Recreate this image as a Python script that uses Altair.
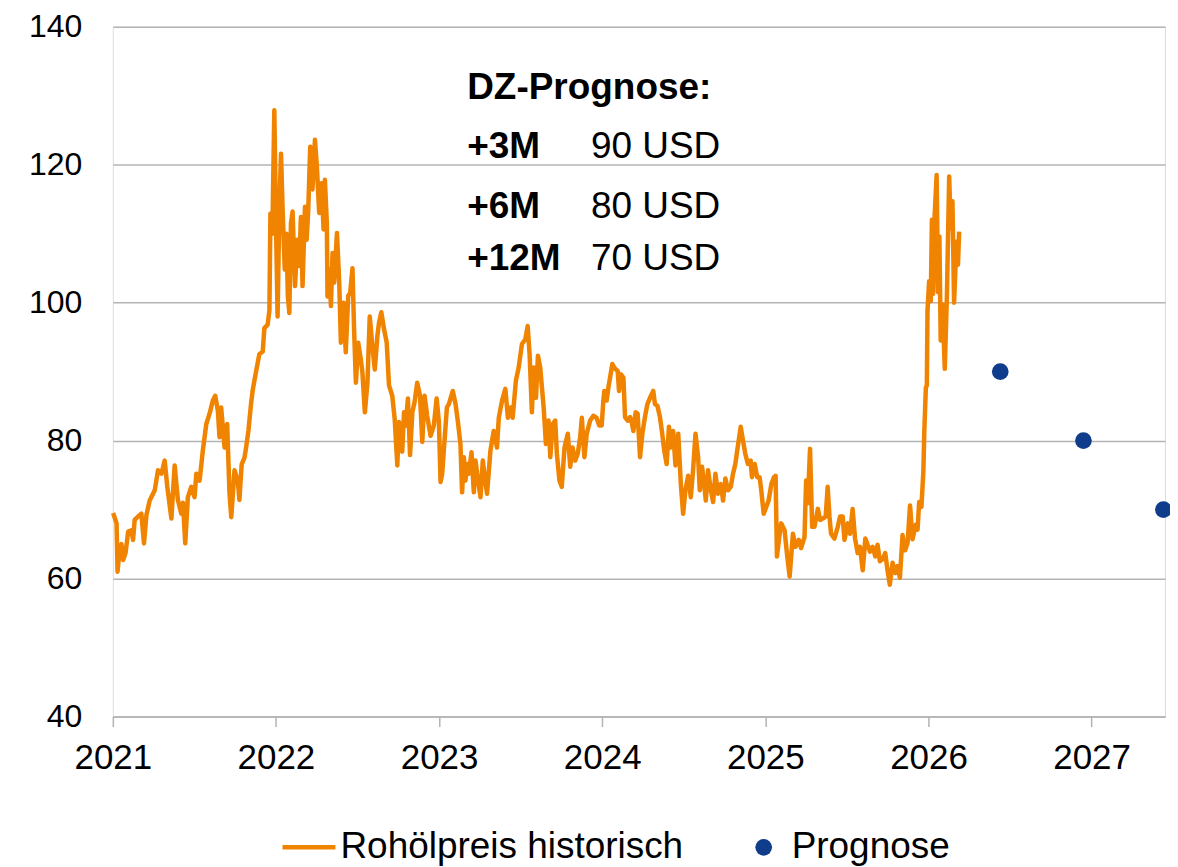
import altair as alt
import pandas as pd

# ---- data ----
years = [
    2021.002, 2021.023, 2021.029, 2021.043, 2021.053, 2021.063, 2021.078, 2021.094, 2021.114, 2021.124,
    2021.134, 2021.155, 2021.175, 2021.191, 2021.206, 2021.226, 2021.257, 2021.277, 2021.298, 2021.318,
    2021.334, 2021.359, 2021.379, 2021.399, 2021.420, 2021.430, 2021.444, 2021.460, 2021.481, 2021.501,
    2021.512, 2021.532, 2021.552, 2021.573, 2021.593, 2021.613, 2021.628, 2021.644, 2021.654, 2021.664,
    2021.685, 2021.701, 2021.715, 2021.726, 2021.746, 2021.766, 2021.776, 2021.790, 2021.807, 2021.817,
    2021.831, 2021.848, 2021.858, 2021.878, 2021.898, 2021.919, 2021.929, 2021.949, 2021.960, 2021.966,
    2021.978, 2021.990, 2022.001, 2022.010, 2022.021, 2022.031, 2022.041, 2022.054, 2022.064, 2022.073,
    2022.082, 2022.092, 2022.102, 2022.117, 2022.131, 2022.143, 2022.153, 2022.163, 2022.178, 2022.188,
    2022.198, 2022.210, 2022.224, 2022.239, 2022.251, 2022.265, 2022.279, 2022.292, 2022.300, 2022.312,
    2022.316, 2022.328, 2022.337, 2022.347, 2022.357, 2022.374, 2022.388, 2022.398, 2022.414, 2022.428,
    2022.443, 2022.455, 2022.469, 2022.479, 2022.490, 2022.504, 2022.520, 2022.530, 2022.545, 2022.561,
    2022.575, 2022.591, 2022.606, 2022.622, 2022.632, 2022.646, 2022.663, 2022.679, 2022.693, 2022.713,
    2022.728, 2022.744, 2022.754, 2022.774, 2022.785, 2022.795, 2022.809, 2022.822, 2022.836, 2022.850,
    2022.866, 2022.883, 2022.897, 2022.911, 2022.927, 2022.948, 2022.968, 2022.985, 2022.999, 2023.009,
    2023.019, 2023.029, 2023.048, 2023.060, 2023.084, 2023.101, 2023.117, 2023.131, 2023.141, 2023.152,
    2023.162, 2023.172, 2023.182, 2023.199, 2023.213, 2023.223, 2023.239, 2023.254, 2023.268, 2023.280,
    2023.294, 2023.315, 2023.335, 2023.355, 2023.366, 2023.386, 2023.406, 2023.422, 2023.437, 2023.451,
    2023.471, 2023.488, 2023.508, 2023.529, 2023.543, 2023.555, 2023.569, 2023.579, 2023.594, 2023.606,
    2023.620, 2023.641, 2023.655, 2023.671, 2023.682, 2023.696, 2023.712, 2023.722, 2023.738, 2023.752,
    2023.769, 2023.789, 2023.804, 2023.818, 2023.834, 2023.850, 2023.865, 2023.875, 2023.891, 2023.905,
    2023.926, 2023.946, 2023.966, 2023.981, 2023.997, 2024.007, 2024.013, 2024.027, 2024.038, 2024.062,
    2024.079, 2024.095, 2024.103, 2024.116, 2024.130, 2024.140, 2024.156, 2024.171, 2024.181, 2024.191,
    2024.205, 2024.217, 2024.232, 2024.246, 2024.262, 2024.277, 2024.293, 2024.313, 2024.323, 2024.339,
    2024.354, 2024.368, 2024.380, 2024.395, 2024.409, 2024.421, 2024.435, 2024.449, 2024.466, 2024.482,
    2024.496, 2024.510, 2024.527, 2024.543, 2024.557, 2024.572, 2024.588, 2024.598, 2024.612, 2024.625,
    2024.635, 2024.649, 2024.666, 2024.680, 2024.694, 2024.710, 2024.727, 2024.741, 2024.755, 2024.771,
    2024.788, 2024.802, 2024.816, 2024.828, 2024.849, 2024.863, 2024.877, 2024.893, 2024.910, 2024.918,
    2024.935, 2024.950, 2024.965, 2024.975, 2024.990, 2025.006, 2025.020, 2025.037, 2025.053, 2025.063,
    2025.071, 2025.088, 2025.097, 2025.118, 2025.132, 2025.149, 2025.169, 2025.185, 2025.205, 2025.219,
    2025.240, 2025.250, 2025.260, 2025.274, 2025.287, 2025.301, 2025.322, 2025.336, 2025.352, 2025.370,
    2025.382, 2025.393, 2025.403, 2025.423, 2025.444, 2025.458, 2025.474, 2025.485, 2025.505, 2025.519,
    2025.535, 2025.550, 2025.566, 2025.580, 2025.597, 2025.613, 2025.627, 2025.641, 2025.658, 2025.674,
    2025.688, 2025.702, 2025.719, 2025.735, 2025.749, 2025.763, 2025.780, 2025.796, 2025.810, 2025.825,
    2025.841, 2025.857, 2025.872, 2025.887, 2025.902, 2025.922, 2025.933, 2025.943, 2025.957, 2025.969,
    2025.974, 2025.984, 2025.990, 2025.994, 2026.004, 2026.014, 2026.021, 2026.029, 2026.038, 2026.050,
    2026.059, 2026.067, 2026.075, 2026.086, 2026.100, 2026.113, 2026.127, 2026.136, 2026.147, 2026.157,
    2026.167, 2026.177, 2026.181, 2026.188,
]
prices = [
    69.5, 68.0, 61.0, 64.6, 65.0, 62.7, 63.7, 66.8, 67.0, 65.6,
    68.5, 69.0, 69.4, 65.1, 69.2, 71.3, 72.8, 75.7, 75.2, 77.1,
    73.3, 68.7, 76.4, 71.4, 69.4, 71.0, 65.1, 71.8, 73.3, 71.8,
    75.2, 74.2, 78.6, 82.4, 83.9, 85.8, 86.5, 84.3, 80.5, 84.8,
    79.0, 82.4, 72.5, 68.9, 75.7, 74.2, 71.4, 76.6, 77.5, 79.0,
    81.4, 85.5, 87.4, 90.0, 92.5, 92.9, 96.3, 96.8, 98.9, 112.9,
    110.0, 127.9, 110.5, 98.0, 114.0, 121.6, 113.4, 104.8, 110.0, 101.0,
    98.5, 111.5, 113.2, 102.4, 109.1, 105.3, 112.4, 102.4, 113.9, 109.1,
    113.4, 122.6, 116.4, 123.6, 119.7, 113.0, 117.3, 110.6, 117.8, 111.5,
    100.9, 104.8, 99.5, 107.2, 102.9, 110.1, 102.9, 94.2, 100.0, 92.8,
    101.0, 101.4, 105.0, 96.1, 88.4, 94.2, 91.8, 89.9, 84.1, 88.4,
    98.0, 93.7, 90.3, 95.2, 97.1, 98.6, 96.1, 94.2, 88.0, 86.5,
    83.1, 76.4, 82.7, 78.4, 84.1, 82.2, 86.1, 77.9, 84.1, 85.6,
    88.4, 86.5, 79.8, 86.5, 83.6, 80.7, 82.2, 86.1, 82.7, 74.0,
    75.2, 78.6, 84.8, 85.3, 87.2, 85.3, 82.4, 79.5, 72.5, 77.6,
    74.2, 76.6, 75.2, 78.3, 72.5, 77.1, 74.2, 71.8, 77.1, 74.7,
    72.3, 78.6, 81.4, 79.0, 83.3, 85.8, 87.5, 83.3, 84.8, 83.3,
    88.7, 90.6, 94.0, 94.7, 96.6, 92.5, 84.1, 90.6, 86.2, 92.3,
    90.6, 84.8, 79.5, 82.9, 77.6, 82.4, 82.9, 78.1, 74.2, 73.3,
    79.0, 81.0, 76.2, 79.0, 77.1, 78.1, 80.5, 83.3, 77.6, 81.0,
    82.9, 83.6, 83.3, 82.2, 82.2, 85.8, 87.2, 85.8, 87.7, 91.1,
    90.4, 90.1, 87.2, 89.6, 89.1, 83.4, 82.9, 83.4, 82.6, 81.4,
    84.1, 83.9, 77.6, 81.0, 83.4, 85.3, 86.2, 87.2, 85.3, 85.0,
    83.4, 81.0, 78.6, 76.6, 82.0, 79.0, 81.4, 76.4, 81.0, 73.7,
    69.4, 72.8, 74.9, 71.8, 75.7, 81.0, 77.6, 72.8, 76.2, 73.7,
    71.3, 75.7, 72.8, 71.1, 75.2, 72.3, 73.7, 71.3, 74.5, 72.8,
    73.3, 75.2, 76.6, 78.6, 82.0, 80.0, 78.1, 76.6, 77.1, 74.7,
    76.6, 74.7, 74.7, 72.8, 69.4, 70.4, 71.3, 73.7, 74.7, 74.9,
    63.2, 66.5, 68.0, 67.0, 63.7, 60.3, 66.5, 64.6, 65.6, 64.4,
    66.0, 74.2, 70.9, 78.8, 67.5, 67.5, 70.1, 68.5, 68.7, 69.0,
    73.3, 69.0, 66.5, 65.8, 67.5, 69.0, 69.0, 65.6, 68.0, 66.5,
    70.1, 65.8, 63.7, 64.6, 61.2, 65.8, 64.9, 63.9, 64.6, 63.2,
    64.9, 62.5, 62.8, 63.7, 61.2, 59.1, 62.3, 60.8, 61.8, 60.1,
    66.3, 64.1, 65.2, 70.6, 65.7, 67.8, 67.1, 71.1, 70.4, 75.7,
    81.0, 87.7, 88.0, 98.8, 103.1, 100.2, 112.0, 101.3, 112.7, 118.5,
    101.5, 109.6, 94.5, 99.7, 90.4, 101.0, 118.3, 110.8, 114.7, 100.0,
    106.0, 108.9, 105.5, 110.3,
]

forecast_years = [2026.44, 2026.95, 2027.44]
forecast_values = [90, 80, 70]

year_ticks = [2021, 2022, 2023, 2024, 2025, 2026, 2027]
value_ticks = [40, 60, 80, 100, 120, 140]

title_text = "DZ-Prognose:"
horizon_labels = ["+3M", "+6M", "+12M"]
horizon_values = ["90 USD", "80 USD", "70 USD"]
legend_labels = ["Rohölpreis historisch", "Prognose"]

# ---- styles ----
ORANGE = "#f08300"
BLUE = "#0f3d8c"
GRID = "#b4b4b4"
FONT = "Liberation Sans"
FS_X = 35
FS_Y = 32
FS_T = 37

W, H = 1054, 691
TOP = 18

hist = pd.DataFrame({"yr": years, "price": prices})
fc = pd.DataFrame({"yr": forecast_years, "price": forecast_values})
one = pd.DataFrame({"d": [0]})

x_enc = alt.X(
    "yr:Q",
    scale=alt.Scale(domain=[2021, 2027.45], nice=False, zero=False),
    axis=alt.Axis(
        values=year_ticks, format="d", grid=False, ticks=True, tickSize=10,
        tickColor=GRID, tickWidth=1.5, domainColor=GRID, domainWidth=1.5,
        labelFontSize=FS_X, labelFont=FONT, labelColor="black", labelPadding=14,
        title=None, labelFlush=False,
    ),
)
y_enc = alt.Y(
    "price:Q",
    scale=alt.Scale(domain=[40, 140], nice=False, zero=False),
    axis=alt.Axis(
        values=value_ticks, grid=True, gridColor=GRID, gridWidth=1.5, domain=False,
        ticks=False, labelFontSize=FS_Y, labelFont=FONT, labelColor="black",
        labelPadding=31, title=None,
    ),
)

line = alt.Chart(hist).mark_line(
    color=ORANGE, strokeWidth=4.5, strokeJoin="round"
).encode(x=x_enc, y=y_enc, order="yr:Q")

dots = alt.Chart(fc).mark_circle(size=280, color=BLUE, opacity=1).encode(
    x=alt.X("yr:Q"), y=alt.Y("price:Q")
)

def txt(s, x, y, bold=False):
    return alt.Chart(one).mark_text(
        text=s, align="left", baseline="middle", fontSize=FS_T, font=FONT,
        fontWeight="bold" if bold else "normal", color="black",
    ).encode(x=alt.value(x), y=alt.value(y))

annots = [txt(title_text, 355, 61, True)]
rows_y = [121, 181, 233]
for lab, val, yy in zip(horizon_labels, horizon_values, rows_y):
    annots.append(txt(lab, 355, yy, True))
    annots.append(txt(val, 479, yy))

# manual legend
leg_y = 822
leg_line = alt.Chart(one).mark_rule(color=ORANGE, strokeWidth=4.5).encode(
    x=alt.value(170), x2=alt.value(223), y=alt.value(leg_y)
)
leg_dot = alt.Chart(one).mark_circle(size=280, color=BLUE, opacity=1).encode(
    x=alt.value(652), y=alt.value(leg_y)
)
leg_t1 = txt(legend_labels[0], 228, leg_y)
leg_t2 = txt(legend_labels[1], 680, leg_y)

chart = alt.layer(
    line, dots, *annots, leg_line, leg_dot, leg_t1, leg_t2
).properties(
    width=W, height=H,
    autosize=alt.AutoSizeParams(type="none"),
    padding={"left": 105, "top": TOP, "right": 5, "bottom": 150},
).configure_view(stroke=None).configure(background="white")

chart.save("out.html", embed_options={"renderer": "svg", "actions": False})
